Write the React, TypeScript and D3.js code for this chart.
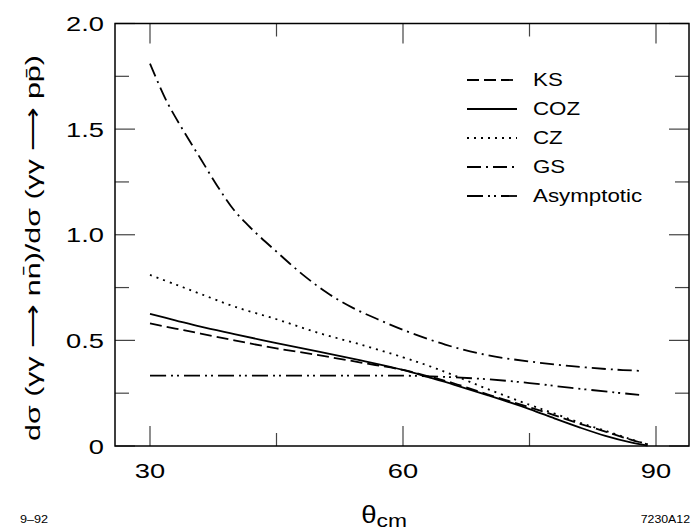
import React from 'react';
import * as d3 from 'd3';

// theta_cm grid (degrees) for the three model curves
const thetaModels = [30, 33, 36, 40, 45, 50, 55, 60, 63, 66, 70, 75, 78, 81, 84, 87, 89];
const ksValues = [0.58, 0.556, 0.532, 0.5, 0.462, 0.43, 0.395, 0.36, 0.33, 0.297, 0.245, 0.183, 0.145, 0.105, 0.068, 0.03, 0.008];
const cozValues = [0.625, 0.595, 0.565, 0.53, 0.487, 0.447, 0.405, 0.36, 0.326, 0.291, 0.241, 0.175, 0.13, 0.087, 0.048, 0.017, 0.002];
const czValues = [0.81, 0.765, 0.72, 0.66, 0.6, 0.535, 0.48, 0.42, 0.38, 0.335, 0.27, 0.195, 0.153, 0.11, 0.072, 0.032, 0.008];

// theta_cm grid for GS and the asymptotic curve
const thetaOther = [30, 32, 34, 36, 38, 40, 42, 45, 48, 51, 54, 57, 60, 65, 70, 75, 80, 85, 88];
const gsValues = [1.81, 1.63, 1.49, 1.36, 1.23, 1.115, 1.03, 0.92, 0.815, 0.725, 0.655, 0.6, 0.55, 0.48, 0.43, 0.4, 0.378, 0.362, 0.356];
const asymValues = [0.333, 0.333, 0.333, 0.333, 0.333, 0.333, 0.333, 0.333, 0.333, 0.333, 0.333, 0.333, 0.333, 0.327, 0.316, 0.298, 0.275, 0.254, 0.242];

const seriesNames = ['KS', 'COZ', 'CZ', 'GS', 'Asymptotic'];
const xTickLabels = [30, 60, 90];
const yTickLabels = ['0', '0.5', '1.0', '1.5', '2.0'];

const dashes: Record<string, string> = {
  KS: '12 5',
  COZ: 'none',
  CZ: '2 5',
  GS: '14 5 2 5',
  Asymptotic: '16 5 2 4 2 5',
};

const W = 691;
const H = 531;
const frame = { left: 115, right: 689, top: 23.5, bottom: 446 };
const font = '"Liberation Sans", Arial, Helvetica, sans-serif';
const stretch = 1.3; // the original lettering is wide

// text placed at (x, y) and stretched horizontally
function Wide(props: {
  x: number;
  y: number;
  size: number;
  anchor?: string;
  sx?: number;
  rotate?: number;
  dy?: string;
  children: React.ReactNode;
}) {
  const { x, y, size, anchor = 'start', sx = stretch, rotate = 0, dy, children } = props;
  return (
    <text
      transform={`translate(${x},${y}) rotate(${rotate}) scale(${sx},1)`}
      textAnchor={anchor}
      fontSize={size}
      dy={dy}
    >
      {children}
    </text>
  );
}

export default function App() {
  const x = d3.scaleLinear().domain([30, 90]).range([150, 656]);
  const y = d3.scaleLinear().domain([0, 2]).range([frame.bottom, frame.top]);

  const line = d3
    .line<[number, number]>()
    .x((d) => x(d[0]))
    .y((d) => y(d[1]))
    .curve(d3.curveCatmullRom.alpha(0.5));

  const series = [
    { name: 'KS', th: thetaModels, v: ksValues },
    { name: 'COZ', th: thetaModels, v: cozValues },
    { name: 'CZ', th: thetaModels, v: czValues },
    { name: 'GS', th: thetaOther, v: gsValues },
    { name: 'Asymptotic', th: thetaOther, v: asymValues },
  ];

  const xMinor = [45, 75];
  const yMajor = d3.range(0, 2.01, 0.5);
  const yMinor = [0.25, 0.75, 1.25, 1.75];
  const tickColor = '#444';

  return (
    <svg
      width={W}
      height={H}
      style={{ position: 'absolute', left: 0, top: 0, background: '#fff' }}
      fontFamily={font}
    >
      {/* ticks */}
      {xTickLabels.map((t) => (
        <g key={'xM' + t} stroke={tickColor} strokeWidth={1.2}>
          <line x1={x(t)} x2={x(t)} y1={frame.bottom} y2={frame.bottom - 20} />
          <line x1={x(t)} x2={x(t)} y1={frame.top} y2={frame.top + 20} />
        </g>
      ))}
      {xMinor.map((t) => (
        <g key={'xm' + t} stroke={tickColor} strokeWidth={1.2}>
          <line x1={x(t)} x2={x(t)} y1={frame.bottom} y2={frame.bottom - 13} />
          <line x1={x(t)} x2={x(t)} y1={frame.top} y2={frame.top + 13} />
        </g>
      ))}
      {yMajor.map((t) => (
        <g key={'yM' + t} stroke={tickColor} strokeWidth={1.2}>
          <line x1={frame.left} x2={frame.left + 20} y1={y(t)} y2={y(t)} />
          <line x1={frame.right} x2={frame.right - 20} y1={y(t)} y2={y(t)} />
        </g>
      ))}
      {yMinor.map((t) => (
        <g key={'ym' + t} stroke={tickColor} strokeWidth={1.2}>
          <line x1={frame.left} x2={frame.left + 14} y1={y(t)} y2={y(t)} />
          <line x1={frame.right} x2={frame.right - 14} y1={y(t)} y2={y(t)} />
        </g>
      ))}

      {/* frame */}
      <rect
        x={frame.left}
        y={frame.top}
        width={frame.right - frame.left}
        height={frame.bottom - frame.top}
        fill="none"
        stroke="#000"
        strokeWidth={1.5}
      />

      {/* curves */}
      {series.map((s) => (
        <path
          key={s.name}
          d={line(s.th.map((t, i) => [t, s.v[i]] as [number, number])) || ''}
          fill="none"
          stroke="#000"
          strokeWidth={1.8}
          strokeDasharray={dashes[s.name]}
        />
      ))}

      {/* legend */}
      {seriesNames.map((name, i) => {
        const ly = 80 + i * 29;
        return (
          <g key={'lg' + name}>
            <line
              x1={467}
              x2={517}
              y1={ly}
              y2={ly}
              stroke="#000"
              strokeWidth={1.8}
              strokeDasharray={dashes[name]}
            />
            <Wide x={533} y={ly} size={18} sx={1.24} dy="0.36em">
              {name}
            </Wide>
          </g>
        );
      })}

      {/* tick labels */}
      {yTickLabels.map((lab, i) => (
        <Wide key={'yl' + lab} x={104} y={y(yMajor[i])} size={21} anchor="end" dy="0.36em">
          {lab}
        </Wide>
      ))}
      {xTickLabels.map((t) => (
        <Wide key={'xl' + t} x={x(t)} y={478} size={21} anchor="middle">
          {t}
        </Wide>
      ))}

      {/* axis titles */}
      <Wide x={384} y={523} size={23} sx={1.2} anchor="middle">
        θ<tspan fontSize={19} dy={4}>cm</tspan>
      </Wide>
      <Wide x={40} y={248} size={21} rotate={-90} sx={1.45} anchor="middle">
        dσ (γγ ⟶ nn̄)/dσ (γγ ⟶ pp̄)
      </Wide>

      {/* corner annotations */}
      <Wide x={20} y={523} size={11} sx={1.15}>
        9–92
      </Wide>
      <Wide x={690} y={523} size={11} sx={1.12} anchor="end">
        7230A12
      </Wide>
    </svg>
  );
}
